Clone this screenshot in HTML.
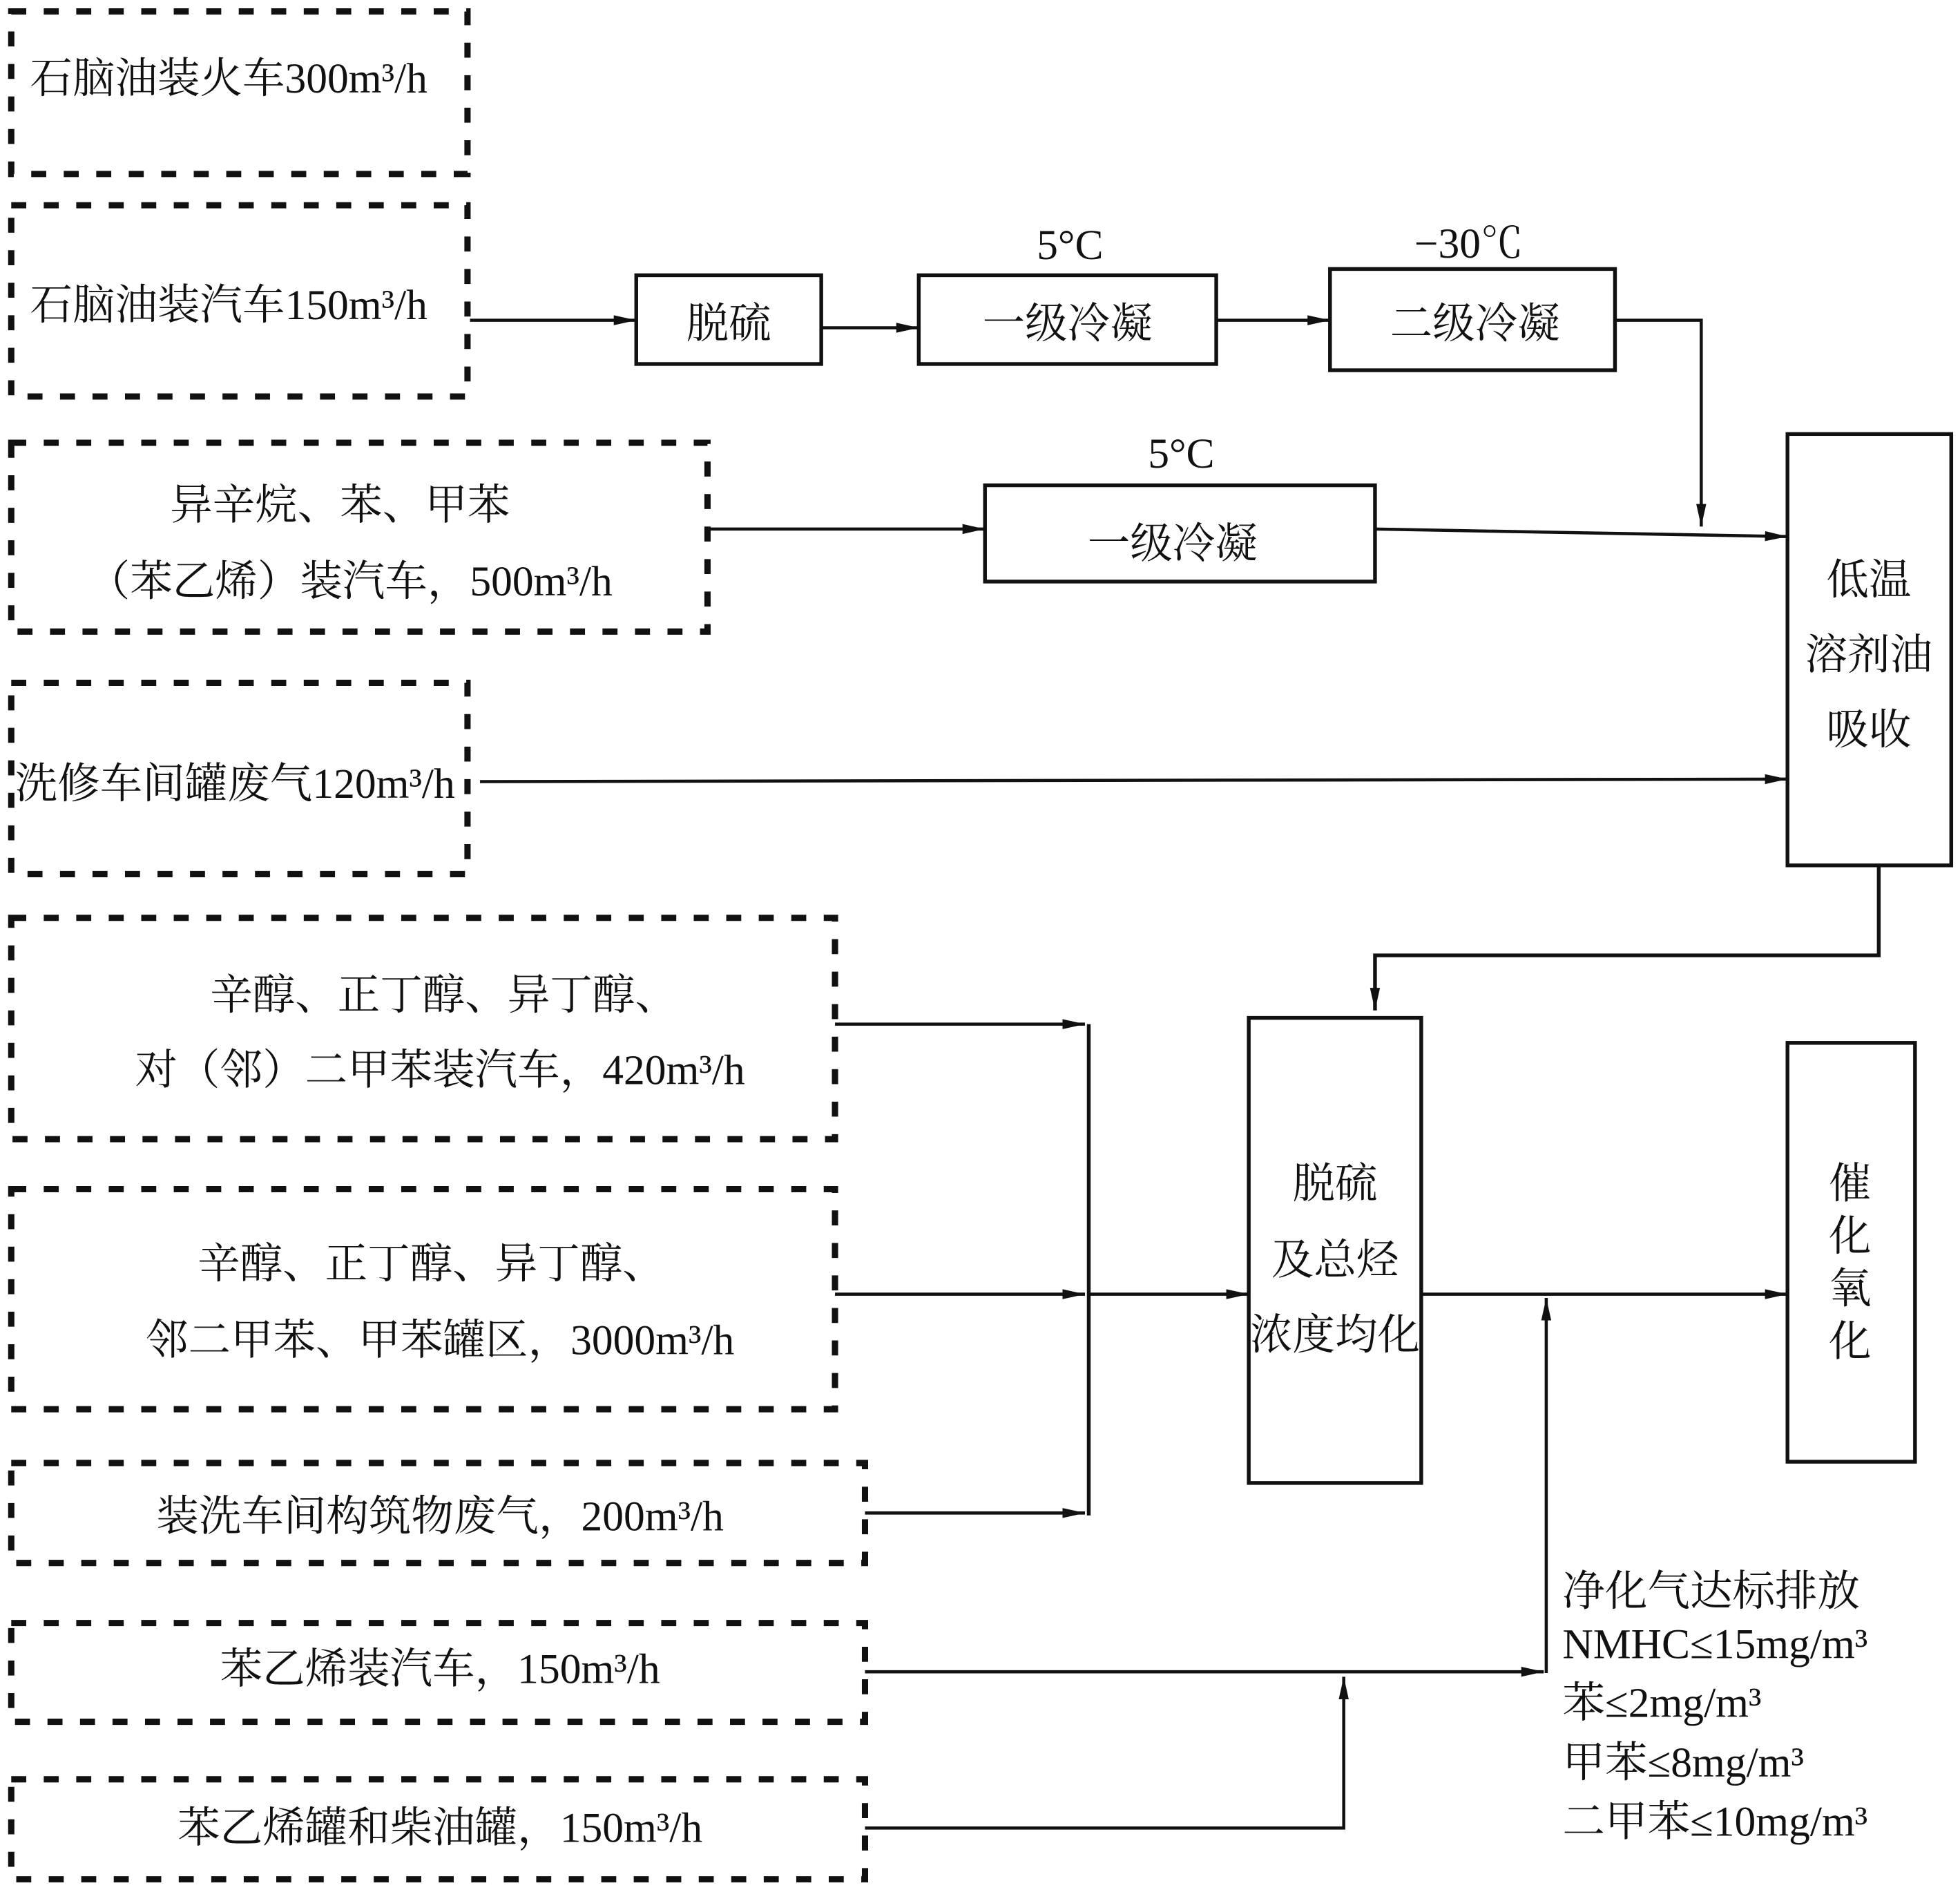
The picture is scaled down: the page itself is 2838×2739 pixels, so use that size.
<!DOCTYPE html>
<html><head><meta charset="utf-8"><style>
html,body{margin:0;padding:0;background:#fff;}
svg{display:block;}
text{font-family:"Liberation Serif","Noto Serif CJK SC",serif;font-size:34px;fill:#111;}
.d{fill:none;stroke:#111;stroke-width:5;stroke-dasharray:12 14;}
.s{fill:none;stroke:#111;stroke-width:3;}
.l{fill:none;stroke:#111;stroke-width:2.5;}
</style></head><body>
<svg width="2838" height="2739" viewBox="0 0 1568 1513" xmlns="http://www.w3.org/2000/svg">
<defs>
<marker id="b" markerWidth="18" markerHeight="8" refX="18" refY="4" orient="auto" markerUnits="userSpaceOnUse" viewBox="0 0 18 8"><path d="M0,0 L18,4 L0,8 z" fill="#111"/></marker></defs>

<rect class="d" x="9" y="9" width="365" height="130"/>
<rect class="d" x="9" y="164" width="365" height="153"/>
<rect class="d" x="9" y="354" width="557" height="151"/>
<rect class="d" x="9" y="546" width="365" height="153"/>
<rect class="d" x="9" y="734" width="659" height="177"/>
<rect class="d" x="9" y="951" width="659" height="176"/>
<rect class="d" x="9" y="1170" width="683" height="80"/>
<rect class="d" x="9" y="1298" width="683" height="79"/>
<rect class="d" x="9" y="1423" width="683" height="80"/>

<text x="24" y="74">石脑油装火车300m³/h</text>
<text x="24" y="255">石脑油装汽车150m³/h</text>
<text x="272" y="415" text-anchor="middle">异辛烷、苯、甲苯</text>
<text x="280" y="476" text-anchor="middle">（苯乙烯）装汽车，500m³/h</text>
<text x="12" y="638">洗修车间罐废气120m³/h</text>
<text x="355" y="807" text-anchor="middle">辛醇、正丁醇、异丁醇、</text>
<text x="352" y="867" text-anchor="middle">对（邻）二甲苯装汽车，420m³/h</text>
<text x="345" y="1022" text-anchor="middle">辛醇、正丁醇、异丁醇、</text>
<text x="352" y="1083" text-anchor="middle">邻二甲苯、甲苯罐区，3000m³/h</text>
<text x="352" y="1224" text-anchor="middle">装洗车间构筑物废气，200m³/h</text>
<text x="352" y="1346" text-anchor="middle">苯乙烯装汽车，150m³/h</text>
<text x="352" y="1473" text-anchor="middle">苯乙烯罐和柴油罐，150m³/h</text>

<rect class="s" x="509" y="220" width="148" height="71"/>
<text x="583" y="270" text-anchor="middle">脱硫</text>
<rect class="s" x="735" y="220" width="238" height="71"/>
<text x="854" y="270" text-anchor="middle">一级冷凝</text>
<text x="856" y="207" text-anchor="middle">5°C</text>
<rect class="s" x="1064" y="215" width="228" height="81"/>
<text x="1180" y="270" text-anchor="middle">二级冷凝</text>
<text x="1175" y="206" text-anchor="middle">−30℃</text>
<rect class="s" x="788" y="388" width="312" height="77"/>
<text x="938" y="446" text-anchor="middle">一级冷凝</text>
<text x="945" y="374" text-anchor="middle">5°C</text>
<rect class="s" x="1430" y="347" width="131" height="345"/>
<text x="1495" y="475" text-anchor="middle">低温</text>
<text x="1495" y="535" text-anchor="middle">溶剂油</text>
<text x="1495" y="595" text-anchor="middle">吸收</text>
<rect class="s" x="999" y="814" width="138" height="372"/>
<text x="1068" y="958" text-anchor="middle">脱硫</text>
<text x="1068" y="1019" text-anchor="middle">及总烃</text>
<text x="1068" y="1079" text-anchor="middle">浓度均化</text>
<rect class="s" x="1430" y="834" width="102" height="335"/>
<text x="1480" y="958" text-anchor="middle">催</text>
<text x="1480" y="1000" text-anchor="middle">化</text>
<text x="1480" y="1042" text-anchor="middle">氧</text>
<text x="1480" y="1084" text-anchor="middle">化</text>

<path class="l" d="M376,256 L509,256" marker-end="url(#b)"/>
<path class="l" d="M657,262 L735,262" marker-end="url(#b)"/>
<path class="l" d="M973,256 L1064,256" marker-end="url(#b)"/>
<path class="l" d="M1292,256 L1361,256 L1361,421" marker-end="url(#b)"/>
<path class="l" d="M566,423 L788,423" marker-end="url(#b)"/>
<path class="l" d="M1100,423 L1430,429" marker-end="url(#b)"/>
<path class="l" d="M384,625 L1430,623" marker-end="url(#b)"/>
<path class="s" d="M1503,692 L1503,764 L1100,764 L1100,808" marker-end="url(#b)"/>
<path class="l" d="M668,819 L868,819" marker-end="url(#b)"/>
<path class="l" d="M668,1035 L868,1035" marker-end="url(#b)"/>
<path class="l" d="M692,1210 L868,1210" marker-end="url(#b)"/>
<path class="s" d="M871,819 L871,1212"/>
<path class="l" d="M871,1035 L999,1035" marker-end="url(#b)"/>
<path class="l" d="M1137,1035 L1430,1035" marker-end="url(#b)"/>
<path class="l" d="M692,1337 L1235,1337" marker-end="url(#b)"/>
<path class="l" d="M1237,1338 L1237,1038" marker-end="url(#b)"/>
<path class="l" d="M692,1462 L1075,1462 L1075,1341" marker-end="url(#b)"/>

<text x="1250" y="1284">净化气达标排放</text>
<text x="1250" y="1326">NMHC≤15mg/m³</text>
<text x="1250" y="1373">苯≤2mg/m³</text>
<text x="1250" y="1421">甲苯≤8mg/m³</text>
<text x="1250" y="1468">二甲苯≤10mg/m³</text>
</svg>
</body></html>
